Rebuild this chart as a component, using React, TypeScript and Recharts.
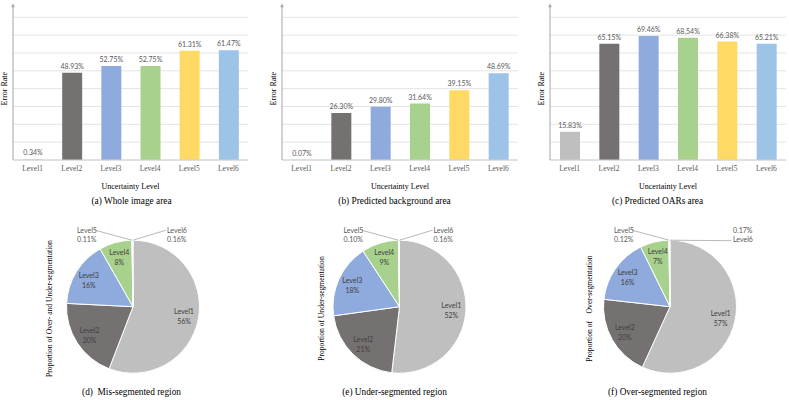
import { BarChart, Bar, XAxis, YAxis, CartesianGrid, Cell, LabelList, PieChart, Pie } from 'recharts';

const LEVELS = ['Level1', 'Level2', 'Level3', 'Level4', 'Level5', 'Level6'];
const LEVEL_COLORS = ['#BFBFBF', '#767171', '#8FAADC', '#A9D18E', '#FFD966', '#9DC3E6'];

// error rate (%) per uncertainty level
const WHOLE_IMAGE = [0.34, 48.93, 52.75, 52.75, 61.31, 61.47];
const BACKGROUND = [0.07, 26.3, 29.8, 31.64, 39.15, 48.69];
const OARS = [15.83, 65.15, 69.46, 68.54, 66.38, 65.21];
const Y_TICKS = [0, 10, 20, 30, 40, 50, 60, 70, 80];

// share (%) of segmentation errors per level
const MIS_SEG = [56, 20, 16, 8, 0.11, 0.16];
const UNDER_SEG = [52, 21, 18, 9, 0.1, 0.16];
const OVER_SEG = [57, 20, 16, 7, 0.12, 0.17];

const SERIF = '"Liberation Serif", "Times New Roman", serif';
const SANS = 'Lato, "Open Sans", sans-serif';
const AXIS_COLOR = '#A6A6A6';
const GRID_COLOR = '#E3E3E3';
const TEXT_GRAY = '#595959';
const RAD = Math.PI / 180;
const Y_AXIS_W = 10;

const toRows = (values: number[]) => LEVELS.map((level, i) => ({ level, value: values[i] }));

const NoTick = () => <g />;

function ErrorRateLabel(props: any) {
  const { viewBox } = props;
  if (!viewBox) return null;
  const x = viewBox.x + viewBox.width;
  const top = viewBox.y;
  const mid = viewBox.y + viewBox.height / 2;
  const lx = x - 8;
  return (
    <g>
      <line x1={x} y1={top} x2={x} y2={top - 11} stroke={AXIS_COLOR} strokeWidth={1} />
      <path d={`M${x - 1.8},${top - 10} L${x + 1.8},${top - 10} L${x},${top - 14} Z`} fill={AXIS_COLOR} />
      <text
        x={lx}
        y={mid}
        transform={`rotate(-90 ${lx} ${mid})`}
        textAnchor="middle"
        dominantBaseline="central"
        fontFamily={SERIF}
        fontSize={8}
        fill="#000"
      >
        Error Rate
      </text>
    </g>
  );
}

interface ErrorBarsProps {
  values: number[];
  left: number;
  axisX: number;
  marginRight: number;
  caption: string;
}

function ErrorBars({ values, left, axisX, marginRight, caption }: ErrorBarsProps) {
  return (
    <div style={{ position: 'absolute', left, top: 0, width: 263, height: 210 }}>
      <BarChart width={263} height={200} data={toRows(values)} margin={{ top: 17.3, right: marginRight, bottom: 0, left: axisX - Y_AXIS_W }}>
        <CartesianGrid vertical={false} stroke={GRID_COLOR} />
        <XAxis
          dataKey="level"
          height={40}
          tickLine={false}
          tickMargin={0}
          axisLine={{ stroke: '#D0D0D0' }}
          tick={{ fontFamily: SERIF, fontSize: 7.5, fill: TEXT_GRAY }}
          label={{ value: 'Uncertainty Level', position: 'insideBottom', offset: 11, fontFamily: SERIF, fontSize: 8, fill: '#000' }}
        />
        <YAxis
          width={Y_AXIS_W}
          domain={[0, 80]}
          ticks={Y_TICKS}
          interval={0}
          tick={<NoTick />}
          tickLine={false}
          axisLine={{ stroke: AXIS_COLOR }}
          label={<ErrorRateLabel />}
        />
        <Bar dataKey="value" barSize={20} isAnimationActive={false}>
          {values.map((_, i) => (
            <Cell key={LEVELS[i]} fill={LEVEL_COLORS[i]} />
          ))}
          <LabelList
            dataKey="value"
            position="top"
            offset={4}
            formatter={(v: any) => `${Number(v).toFixed(2)}%`}
            style={{ fontFamily: SANS, fontSize: 7, fill: TEXT_GRAY }}
          />
        </Bar>
      </BarChart>
      <div style={{ position: 'absolute', left: 0, top: 196, width: 263, textAlign: 'center', fontFamily: SERIF, fontSize: 9.3, color: '#000' }}>
        {caption}
      </div>
    </div>
  );
}

const formatShare = (v: number) => (v >= 1 ? `${Math.round(v)}%` : `${v.toFixed(2)}%`);

function makePieLabel(level6Beside: boolean) {
  return (p: any) => {
    const { cx, cy, midAngle, outerRadius, index } = p;
    const value = p.payload?.value ?? p.value;
    const share = formatShare(value);
    if (index < 4) {
      const r = outerRadius * 0.78;
      const x = cx + r * Math.cos(-midAngle * RAD);
      const y = cy + r * Math.sin(-midAngle * RAD);
      return (
        <g>
          <text x={x} y={y - 5} textAnchor="middle" dominantBaseline="central" fontFamily={SANS} fontSize={7} fill="#404040">
            {LEVELS[index]}
          </text>
          <text x={x} y={y + 5} textAnchor="middle" dominantBaseline="central" fontFamily={SANS} fontSize={7} fill="#404040">
            {share}
          </text>
        </g>
      );
    }
    const topY = cy - outerRadius;
    const textStyle = { fontFamily: SANS, fontSize: 7, fill: TEXT_GRAY };
    if (index === 4) {
      return (
        <g>
          <polyline points={`${cx - 38},${topY - 10} ${cx - 1},${topY}`} stroke={AXIS_COLOR} fill="none" strokeWidth={0.8} />
          <text x={cx - 56} y={topY - 10.5} dominantBaseline="central" {...textStyle}>{LEVELS[index]}</text>
          <text x={cx - 56} y={topY - 1.5} dominantBaseline="central" {...textStyle}>{share}</text>
        </g>
      );
    }
    if (level6Beside) {
      return (
        <g>
          <polyline points={`${cx},${topY} ${cx + 61},${topY + 0.5}`} stroke={AXIS_COLOR} fill="none" strokeWidth={0.8} />
          <text x={cx + 63} y={topY - 10.5} dominantBaseline="central" {...textStyle}>{share}</text>
          <text x={cx + 63} y={topY - 1.5} dominantBaseline="central" {...textStyle}>{LEVELS[index]}</text>
        </g>
      );
    }
    return (
      <g>
        <polyline points={`${cx + 33},${topY - 10} ${cx},${topY}`} stroke={AXIS_COLOR} fill="none" strokeWidth={0.8} />
        <text x={cx + 34} y={topY - 10.5} dominantBaseline="central" {...textStyle}>{LEVELS[index]}</text>
        <text x={cx + 34} y={topY - 1.5} dominantBaseline="central" {...textStyle}>{share}</text>
      </g>
    );
  };
}

interface SharePieProps {
  values: number[];
  left: number;
  cx: number;
  title: string;
  titleX: number;
  caption: string;
  level6Beside?: boolean;
}

function SharePie({ values, left, cx, title, titleX, caption, level6Beside = false }: SharePieProps) {
  return (
    <div style={{ position: 'absolute', left, top: 200, width: 263, height: 200 }}>
      <PieChart width={263} height={185} margin={{ top: 0, right: 0, bottom: 0, left: 0 }}>
        <Pie
          data={toRows(values)}
          dataKey="value"
          nameKey="level"
          cx={cx}
          cy={106.7}
          outerRadius={66.5}
          startAngle={90}
          endAngle={-270}
          stroke="#fff"
          strokeWidth={1}
          labelLine={false}
          label={makePieLabel(level6Beside)}
          isAnimationActive={false}
        >
          {values.map((_, i) => (
            <Cell key={LEVELS[i]} fill={LEVEL_COLORS[i]} />
          ))}
        </Pie>
      </PieChart>
      <div
        style={{
          position: 'absolute',
          left: titleX - 100,
          top: 104,
          width: 200,
          textAlign: 'center',
          transform: 'rotate(-90deg)',
          fontFamily: SERIF,
          fontSize: 7.6,
          lineHeight: '9px',
          whiteSpace: 'pre',
          color: '#000',
        }}
      >
        {title}
      </div>
      <div style={{ position: 'absolute', left: 0, top: 187, width: 263, textAlign: 'center', fontFamily: SERIF, fontSize: 9.3, color: '#000', whiteSpace: 'pre' }}>
        {caption}
      </div>
    </div>
  );
}

export default function App() {
  return (
    <div style={{ position: 'absolute', left: 0, top: 0, width: 789, height: 400, background: '#fff', overflow: 'hidden' }}>
      <ErrorBars values={WHOLE_IMAGE} left={0} axisX={13} marginRight={15} caption="(a) Whole image area" />
      <ErrorBars values={BACKGROUND} left={263} axisX={19} marginRight={8} caption="(b) Predicted background area" />
      <ErrorBars values={OARS} left={526} axisX={24} marginRight={3} caption="(c) Predicted OARs area" />
      <SharePie
        values={MIS_SEG}
        left={0}
        cx={133}
        title="Proportion of Over- and Under-segmentation"
        titleX={49}
        caption="(d)  Mis-segmented region"
      />
      <SharePie
        values={UNDER_SEG}
        left={263}
        cx={136.5}
        title="Proportion of Under-segmentation"
        titleX={58}
        caption="(e) Under-segmented region"
      />
      <SharePie
        values={OVER_SEG}
        left={526}
        cx={144}
        title="Proportion of    Over-segmentation"
        titleX={63}
        caption="(f) Over-segmented region"
        level6Beside
      />
    </div>
  );
}
